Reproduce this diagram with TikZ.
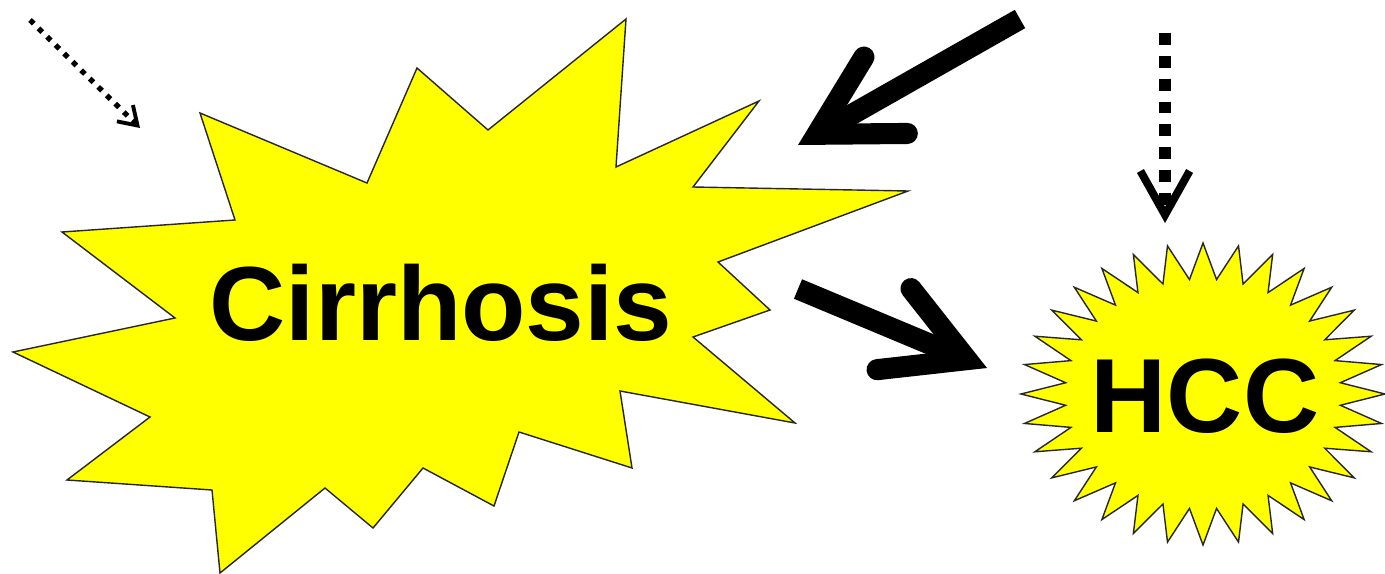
\documentclass[tikz,border=0pt]{standalone}
\usepackage{fontspec}
\setmainfont{Liberation Sans}
\usetikzlibrary{arrows.meta, positioning}
\definecolor{burstyellow}{RGB}{255,255,0}

\begin{document}
\begin{tikzpicture}[x=0.02cm, y=-0.02cm,
    burst/.style={draw=black!85, line width=0.8pt, fill=burstyellow, line join=miter},
    disease/.style={font=\fontsize{60}{60}\selectfont\bfseries, inner sep=0pt, anchor=base},
    bigarrow/.style={line width=12pt, -{Straight Barb[length=45pt, width=50pt, line cap=round, line join=miter]}},
    dotarrow/.style={line width=6.8pt, dash pattern=on 6.8pt off 6.2pt, -{Straight Barb[length=25pt, width=28pt, line width=4.5pt, line join=miter]}},
    thinarrow/.style={line width=3pt, dash pattern=on 3pt off 3.8pt, -{Straight Barb[length=10pt, width=13pt, line width=2.2pt, line join=miter]}}]
    \useasboundingbox (0,0) rectangle (1385,574);
    % Cirrhosis burst
    \draw[burst] (62,232) -- (235,220) -- (200,113) -- (367,183) -- (417,68) -- (488,130)
        -- (626,19) -- (616,167) -- (759,101) -- (693,187) -- (908,191) -- (718,262)
        -- (770,310) -- (693,337) -- (795,423) -- (620,391) -- (632,468) -- (519,432)
        -- (494,506) -- (423,468) -- (373,528) -- (325,488) -- (220,573) -- (212,490)
        -- (67,480) -- (150,417) -- (13,352) -- (175,318) -- cycle;
    \node[disease] (cirrhosis) at (441,340) {Cirrhosis};
    % HCC star
    \draw[burst, shift={(1203,394)}] (0:182 and 151)
        \foreach \k in {0,...,31} {
            -- (\k*11.25+5.625:138 and 115) -- (\k*11.25+11.25:182 and 151)
        } -- cycle;
    \node[disease] (hcc) at (1205,432) {HCC};
    % Arrows
    \coordinate (riskA) at (30,20);
    \coordinate (riskA end) at (140,128);
    \coordinate (riskB) at (1020,19);
    \coordinate (riskB end) at (798,145);
    \coordinate (riskC) at (1165,33);
    \coordinate (riskC end) at (1165,223);
    \coordinate (prog) at (798,289);
    \coordinate (prog end) at (987,368);
    \draw[thinarrow] (riskA) -- (riskA end);
    \draw[bigarrow] (riskB) -- (riskB end);
    \draw[dotarrow] (riskC) -- (riskC end);
    \draw[bigarrow] (prog) -- (prog end);
\end{tikzpicture}
\end{document}
